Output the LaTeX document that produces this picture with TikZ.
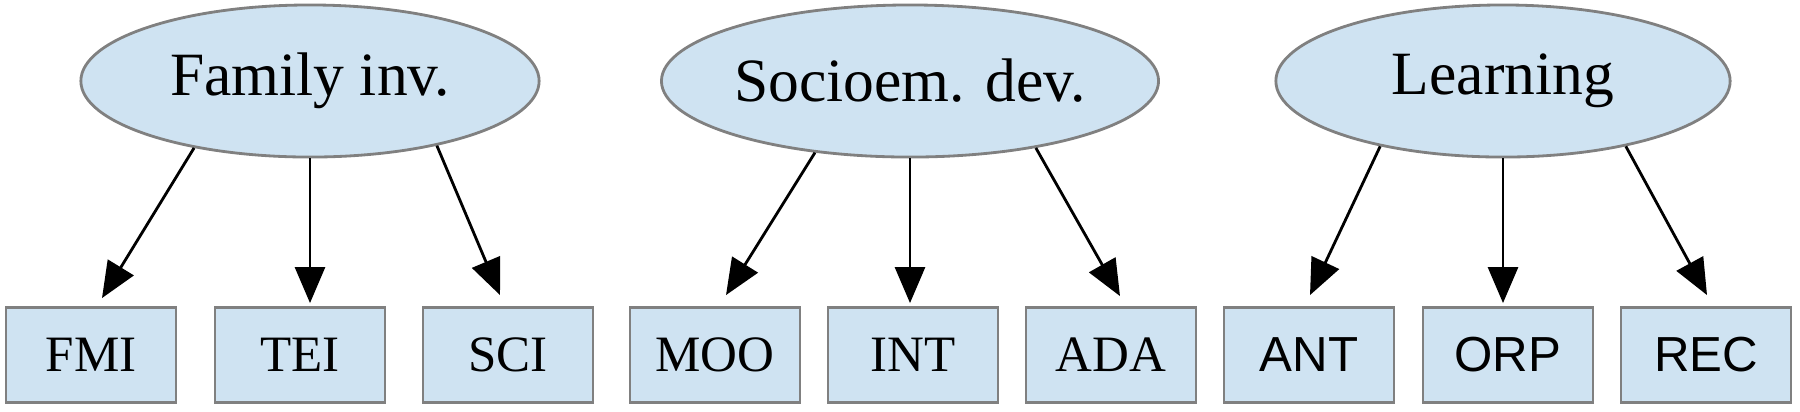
\documentclass[tikz,border=0pt]{standalone}
\usepackage{fontspec}
\setmainfont{Liberation Serif}
\newfontfamily\arialf{Liberation Sans}
\usetikzlibrary{shapes.geometric,arrows.meta,calc}
\definecolor{nodefill}{HTML}{CFE3F2}
\definecolor{nodeline}{HTML}{808080}
\tikzset{
  cat/.style={ellipse, draw=nodeline, fill=nodefill, line width=0.8pt, inner sep=0pt, minimum height=1.52cm, font=\fontsize{17.5}{20}\selectfont},
  leaf/.style={rectangle, draw=nodeline, fill=nodefill, line width=0.8pt, minimum width=1.7cm, minimum height=0.95cm, inner sep=0pt, font=\fontsize{14.5}{17}\selectfont},
  sleaf/.style={leaf, font=\arialf\fontsize{14}{17}\selectfont},
  edge/.style={draw=black, line width=0.8pt, -{Triangle[length=0.36cm,width=0.3cm]}}
}
\begin{document}
\begin{tikzpicture}[x=0.01cm,y=-0.01cm]
\useasboundingbox (0,0) rectangle (1800,411);
\node[cat, minimum width=4.58cm] (fam) at (310,81) {Family inv.};
\node[cat, minimum width=4.54cm] (soc) at (910,81) {Socioem. dev.};
\node[cat, minimum width=4.54cm] (lea) at (1503,81) {Learning};
\node[leaf] (fmi) at (91,355) {FMI};
\node[leaf] (tei) at (300,355) {TEI};
\node[leaf] (sci) at (508,355) {SCI};
\node[leaf] (moo) at (715,355) {MOO};
\node[leaf] (int) at (913,355) {INT};
\node[leaf] (ada) at (1111,355) {ADA};
\node[sleaf] (ant) at (1309,355) {ANT};
\node[sleaf] (orp) at (1508,355) {ORP};
\node[sleaf] (rec) at (1706,355) {REC};
\draw[edge] (fam.210) -- ($(fmi.north)+(11,-8)$);
\draw[edge] (fam.south) -- ($(fam.south |- tei.north)+(0,-3)$);
\draw[edge] (fam.-27) -- ($(sci.north)+(-8,-11)$);
\draw[edge] (soc.217.6) -- ($(moo.north)+(11,-11)$);
\draw[edge] (soc.south) -- ($(soc.south |- int.north)+(0,-3)$);
\draw[edge] (soc.-28.4) -- ($(ada.north)+(9,-10)$);
\draw[edge] (lea.208) -- ($(ant.north)+(1,-11)$);
\draw[edge] (lea.south) -- ($(lea.south |- orp.north)+(0,-3)$);
\draw[edge] (lea.-28.8) -- ($(rec.north)+(1,-11)$);
\end{tikzpicture}
\end{document}
